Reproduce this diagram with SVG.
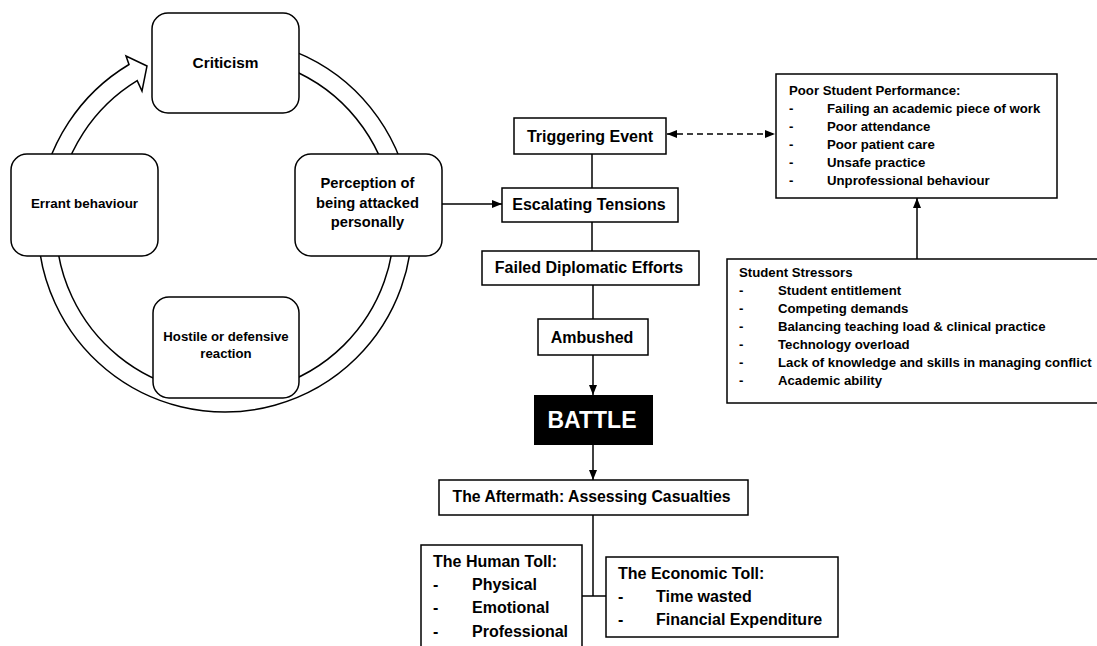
<svg xmlns="http://www.w3.org/2000/svg" width="1097" height="646" viewBox="0 0 1097 646">
<style>
text{font-family:"Liberation Sans",Arial,sans-serif;font-weight:bold;fill:#000}
.c{text-anchor:middle}
.box{fill:#fff;stroke:#000;stroke-width:1.5}
.rbox{fill:#fff;stroke:#000;stroke-width:1.5}
.ln{fill:none;stroke:#000;stroke-width:1.5}
.f16{font-size:16px}
.f15{font-size:15px}
.f13{font-size:13.3px}
.f132{font-size:13.2px}
</style>
<defs>
<marker id="ah" markerUnits="userSpaceOnUse" markerWidth="10" markerHeight="10" viewBox="0 0 10 10" refX="10" refY="5" orient="auto-start-reverse">
<path d="M0,1 L10,5 L0,9 Z" fill="#000"/>
</marker>
</defs>
<g id="cycle-arrow">
<path class="rbox" d="M225,38 A187,187 0 1 1 129,64.5 L126,56 L147,66 L142,91 L137.2,80.6 A169,169 0 1 0 225,56 Z"/>
</g>
<g id="criticism">
<rect class="rbox" x="152" y="13" width="147" height="100" rx="16"/>
<text class="c" x="225.5" y="68" font-size="15.4">Criticism</text>
</g>
<g id="perception">
<rect class="rbox" x="295" y="154" width="147" height="102" rx="16"/>
<text class="c" x="367.5" y="188" font-size="14.7">Perception of</text>
<text class="c" x="367.5" y="208" font-size="14.7">being attacked</text>
<text class="c" x="367.5" y="227" font-size="14.7">personally</text>
</g>
<g id="hostile">
<rect class="rbox" x="153" y="297" width="146" height="101" rx="16"/>
<text class="c" x="226" y="341" font-size="13.2">Hostile or defensive</text>
<text class="c" x="226" y="358" font-size="13.2">reaction</text>
</g>
<g id="errant">
<rect class="rbox" x="11" y="154" width="147" height="102" rx="16"/>
<text class="c" x="84.5" y="208" font-size="13.4">Errant behaviour</text>
</g>
<g id="connectors">
<line class="ln" x1="442" y1="204" x2="502" y2="204" marker-end="url(#ah)"/>
<line class="ln" x1="592" y1="154" x2="592" y2="188"/>
<line class="ln" x1="592" y1="222" x2="592" y2="251"/>
<line class="ln" x1="593" y1="285" x2="593" y2="319"/>
<line class="ln" x1="593" y1="355" x2="593" y2="395" marker-end="url(#ah)"/>
<line class="ln" x1="593" y1="445" x2="593" y2="480" marker-end="url(#ah)"/>
<line class="ln" x1="593" y1="515" x2="593" y2="596"/>
<line class="ln" x1="582" y1="596" x2="606" y2="596"/>
<line class="ln" x1="667" y1="134" x2="775" y2="134" stroke-dasharray="6,4" marker-start="url(#ah)" marker-end="url(#ah)"/>
<line class="ln" x1="917" y1="259" x2="917" y2="198" marker-end="url(#ah)"/>
</g>
<g id="triggering">
<rect class="box" x="514" y="118" width="152" height="36"/>
<text class="c f16" x="590" y="142">Triggering Event</text>
</g>
<g id="escalating">
<rect class="box" x="502" y="188" width="176" height="34"/>
<text class="c f16" x="589" y="210">Escalating Tensions</text>
</g>
<g id="failed">
<rect class="box" x="482" y="251" width="217" height="34"/>
<text class="c f16" x="589" y="273">Failed Diplomatic Efforts</text>
</g>
<g id="ambushed">
<rect class="box" x="538" y="319" width="110" height="36"/>
<text class="c f16" x="592" y="343">Ambushed</text>
</g>
<g id="battle">
<rect x="534" y="395" width="119" height="50" fill="#000"/>
<text class="c" x="592" y="428" font-size="23" style="fill:#fff">BATTLE</text>
</g>
<g id="aftermath">
<rect class="box" x="439" y="480" width="309" height="35"/>
<text class="c" x="591.5" y="502" font-size="15.8">The Aftermath: Assessing Casualties</text>
</g>
<g id="human-toll">
<rect class="box" x="421" y="545" width="161" height="110"/>
<text x="433" y="567" font-size="16">The Human Toll:</text>
<text x="433" y="590" font-size="16">-</text><text x="472" y="590" font-size="16">Physical</text>
<text x="433" y="613" font-size="16">-</text><text x="472" y="613" font-size="16">Emotional</text>
<text x="433" y="637" font-size="16">-</text><text x="472" y="637" font-size="16">Professional</text>
</g>
<g id="economic-toll">
<rect class="box" x="606" y="557" width="232" height="80"/>
<text x="618" y="579" font-size="16">The Economic Toll:</text>
<text x="618" y="602" font-size="16">-</text><text x="656" y="602" font-size="16">Time wasted</text>
<text x="618" y="625" font-size="16">-</text><text x="656" y="625" font-size="16">Financial Expenditure</text>
</g>
<g id="poor-performance">
<rect class="box" x="776" y="74" width="281" height="124"/>
<text class="f132" x="789" y="95">Poor Student Performance:</text>
<text class="f132" x="789" y="113">-</text><text class="f132" x="827" y="113">Failing an academic piece of work</text>
<text class="f132" x="789" y="131">-</text><text class="f132" x="827" y="131">Poor attendance</text>
<text class="f132" x="789" y="149">-</text><text class="f132" x="827" y="149">Poor patient care</text>
<text class="f132" x="789" y="167">-</text><text class="f132" x="827" y="167">Unsafe practice</text>
<text class="f132" x="789" y="185">-</text><text class="f132" x="827" y="185">Unprofessional behaviour</text>
</g>
<g id="stressors">
<rect class="box" x="727" y="259" width="380" height="144"/>
<text class="f132" x="739" y="277">Student Stressors</text>
<text class="f132" x="739" y="295">-</text><text class="f132" x="778" y="295">Student entitlement</text>
<text class="f132" x="739" y="313">-</text><text class="f132" x="778" y="313">Competing demands</text>
<text class="f132" x="739" y="331">-</text><text class="f132" x="778" y="331">Balancing teaching load &amp; clinical practice</text>
<text class="f132" x="739" y="349">-</text><text class="f132" x="778" y="349">Technology overload</text>
<text class="f132" x="739" y="367">-</text><text class="f132" x="778" y="367">Lack of knowledge and skills in managing conflict</text>
<text class="f132" x="739" y="385">-</text><text class="f132" x="778" y="385">Academic ability</text>
</g>
</svg>
